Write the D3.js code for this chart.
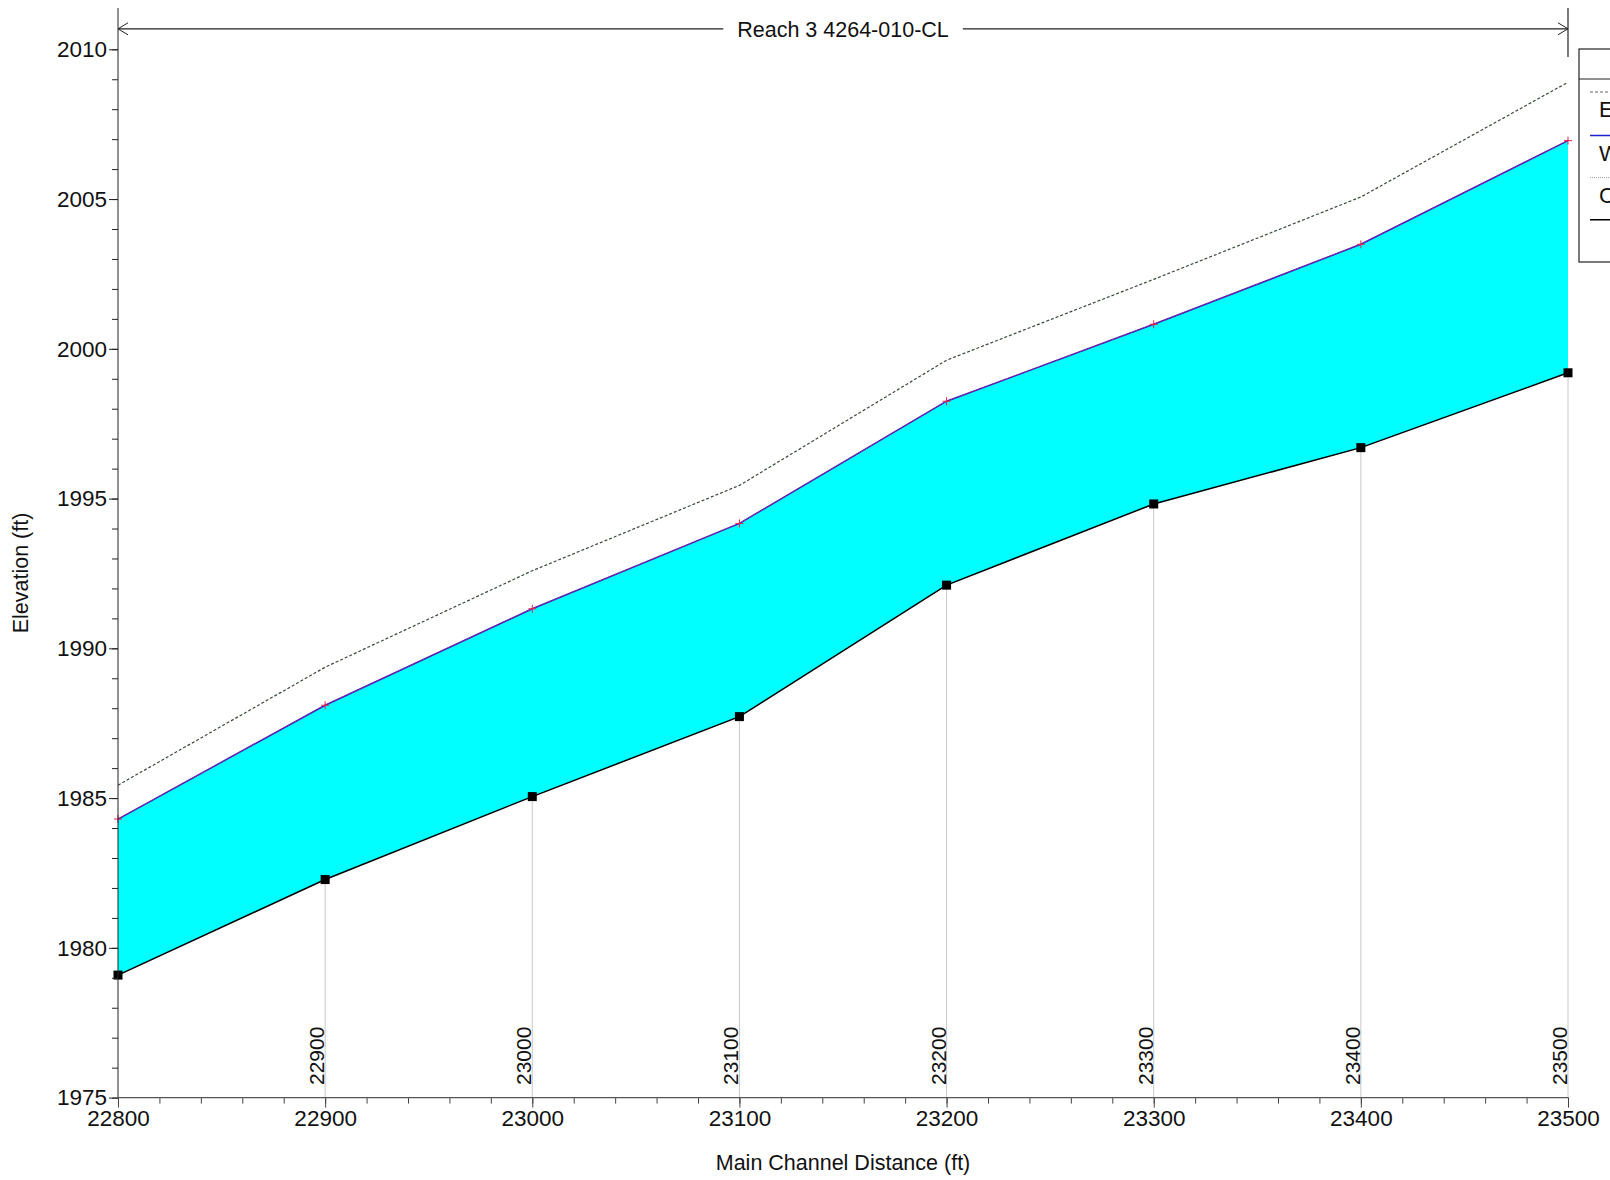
<!DOCTYPE html>
<html>
<head>
<meta charset="utf-8">
<script src="https://cdn.jsdelivr.net/npm/d3@7/dist/d3.min.js"></script>
<style>
body { margin: 0; background: #fff; }
svg { display: block; font-family: "Liberation Sans", Arial, sans-serif; }
</style>
</head>
<body>
<svg id="chart" width="1610" height="1180"></svg>
<script>
// ---- data ----
const stations = [22800, 22900, 23000, 23100, 23200, 23300, 23400, 23500];
const groundElev = [1979.09, 1982.28, 1985.05, 1987.72, 1992.11, 1994.82, 1996.70, 1999.20];
const wsElev = [1984.30, 1988.10, 1991.32, 1994.17, 1998.25, 2000.82, 2003.49, 2006.95];
const egElev = [1985.43, 1989.37, 1992.59, 1995.44, 1999.62, 2002.32, 2005.07, 2008.90];
const critElev = [1984.30, 1988.10, 1991.32, 1994.17, 1998.25, 2000.82, 2003.49, 2006.95];
const yTicks = [1975, 1980, 1985, 1990, 1995, 2000, 2005, 2010];
const xTicks = [22800, 22900, 23000, 23100, 23200, 23300, 23400, 23500];
const legendLabels = ["EG  PF 1", "WS  PF 1", "Crit  PF 1", "Ground"];
const reachLabel = "Reach 3 4264-010-CL";
const xTitle = "Main Channel Distance (ft)";
const yTitle = "Elevation (ft)";

const svg = d3.select("#chart");
const x = d3.scaleLinear().domain([22800, 23500]).range([118, 1568]);
const y = d3.scaleLinear().domain([1975, 2010]).range([1097.6, 49.3]);

const rows = stations.map((s, i) => ({s, g: groundElev[i], ws: wsElev[i], eg: egElev[i], cr: critElev[i]}));
const inner = rows.filter(d => d.s > 22800);

// station grey lines
svg.append("g").selectAll("line").data(inner).join("line")
  .attr("x1", d => x(d.s)).attr("x2", d => x(d.s))
  .attr("y1", d => y(d.g)).attr("y2", y(1975))
  .attr("stroke", "#c8c8c8").attr("stroke-width", 1);

// fill between WS and ground
const area = d3.area().x(d => x(d.s)).y0(d => y(d.g)).y1(d => y(d.ws));
svg.append("path").datum(rows).attr("d", area).attr("fill", "#00ffff");

// EG dashed
svg.append("path").datum(rows)
  .attr("d", d3.line().x(d => x(d.s)).y(d => y(d.eg)))
  .attr("fill", "none").attr("stroke", "#3a4a3a").attr("stroke-width", 1.2)
  .attr("stroke-dasharray", "3,2");

// WS blue
svg.append("path").datum(rows)
  .attr("d", d3.line().x(d => x(d.s)).y(d => y(d.ws)))
  .attr("fill", "none").attr("stroke", "#2020d0").attr("stroke-width", 1.5);
// Crit red dotted overlapping
svg.append("path").datum(rows)
  .attr("d", d3.line().x(d => x(d.s)).y(d => y(d.cr)))
  .attr("fill", "none").attr("stroke", "#e0206a").attr("stroke-width", 1)
  .attr("stroke-dasharray", "1,1");
// crit + markers
const plus = svg.append("g").selectAll("g").data(rows).join("g")
  .attr("transform", d => `translate(${x(d.s)},${y(d.cr)})`);
plus.append("line").attr("x1", -4).attr("x2", 4).attr("stroke", "#e8204a").attr("stroke-width", 1);
plus.append("line").attr("y1", -4).attr("y2", 4).attr("stroke", "#e8204a").attr("stroke-width", 1);

// ground line
svg.append("path").datum(rows)
  .attr("d", d3.line().x(d => x(d.s)).y(d => y(d.g)))
  .attr("fill", "none").attr("stroke", "#000").attr("stroke-width", 1.5);
svg.append("g").selectAll("rect").data(rows).join("rect")
  .attr("x", d => x(d.s) - 4.5).attr("y", d => y(d.g) - 4.5)
  .attr("width", 9).attr("height", 9).attr("fill", "#000");

// rotated station labels
svg.append("g").selectAll("text").data(inner).join("text")
  .attr("transform", d => `translate(${x(d.s) - 1},${1085}) rotate(-90)`)
  .attr("text-anchor", "start").attr("font-size", 21).attr("fill", "#111")
  .text(d => d.s);

// Y axis
const yMinor = d3.range(1975, 2011, 1);
svg.append("g").attr("transform", "translate(118,0)")
  .call(d3.axisLeft(y).tickValues(yMinor).tickSize(6).tickFormat(""))
  .call(g => g.select(".domain").remove())
  .selectAll("line").attr("stroke", "#222");
const yAx = svg.append("g").attr("transform", "translate(118,0)")
  .call(d3.axisLeft(y).tickValues(yTicks).tickSize(9).tickPadding(2).tickFormat(d3.format("d")));
yAx.select(".domain").remove();
yAx.selectAll("line").attr("stroke", "#222");
yAx.selectAll("text").attr("font-size", 22.5).attr("fill", "#111").attr("font-family", "Liberation Sans, Arial, sans-serif");
svg.append("line").attr("x1", 118).attr("x2", 118).attr("y1", 8).attr("y2", y(1975))
  .attr("stroke", "#222").attr("stroke-width", 1);

// X axis
const xMinor = d3.range(22800, 23501, 20);
svg.append("g").attr("transform", `translate(0,${y(1975)})`)
  .call(d3.axisBottom(x).tickValues(xMinor).tickSize(6).tickFormat(""))
  .call(g => g.select(".domain").remove())
  .selectAll("line").attr("stroke", "#444");
const xAx = svg.append("g").attr("transform", `translate(0,${y(1975)})`)
  .call(d3.axisBottom(x).tickValues(xTicks).tickSize(10).tickPadding(2).tickFormat(d3.format("d")));
xAx.select(".domain").remove();
xAx.selectAll("line").attr("stroke", "#444");
xAx.selectAll("text").attr("font-size", 22.5).attr("fill", "#111").attr("font-family", "Liberation Sans, Arial, sans-serif");
svg.append("line").attr("x1", 118).attr("x2", 1568).attr("y1", y(1975)).attr("y2", y(1975))
  .attr("stroke", "#555").attr("stroke-width", 1.3);

// axis titles
svg.append("text").attr("x", x(23150)).attr("y", 1170).attr("text-anchor", "middle")
  .attr("font-size", 21.5).attr("fill", "#111").text(xTitle);
svg.append("text").attr("transform", "translate(28,573) rotate(-90)").attr("text-anchor", "middle")
  .attr("font-size", 21.5).attr("fill", "#111").text(yTitle);

// reach arrow
const ay = 28.8;
svg.append("line").attr("x1", x(22800)).attr("x2", x(23500)).attr("y1", ay).attr("y2", ay)
  .attr("stroke", "#222").attr("stroke-width", 1.2);
svg.append("path").attr("d", `M${x(22800)+10},${ay-6} L${x(22800)},${ay} L${x(22800)+10},${ay+6}`)
  .attr("fill", "none").attr("stroke", "#222").attr("stroke-width", 1);
svg.append("path").attr("d", `M${x(23500)-10},${ay-6} L${x(23500)},${ay} L${x(23500)-10},${ay+6}`)
  .attr("fill", "none").attr("stroke", "#222").attr("stroke-width", 1);
svg.append("line").attr("x1", x(23500)).attr("x2", x(23500)).attr("y1", 8).attr("y2", 57)
  .attr("stroke", "#222").attr("stroke-width", 1.2);
const rlBg = svg.append("rect").attr("fill", "#fff");
const rl = svg.append("text").attr("x", 843).attr("y", 36.5).attr("text-anchor", "middle")
  .attr("font-size", 21.5).attr("fill", "#111").text(reachLabel);
const bb = rl.node().getBBox();
rlBg.attr("x", bb.x - 14).attr("y", bb.y).attr("width", bb.width + 28).attr("height", bb.height);

// legend (cut off at right edge, as in the reference)
const lg = svg.append("g");
lg.append("rect").attr("x", 1579).attr("y", 49).attr("width", 200).attr("height", 213)
  .attr("fill", "#fff").attr("stroke", "#222").attr("stroke-width", 1.2);
lg.append("line").attr("x1", 1579).attr("x2", 1779).attr("y1", 79).attr("y2", 79).attr("stroke", "#222");
lg.append("text").attr("x", 1640).attr("y", 72).attr("font-size", 21).text("Legend");
const legStyles = [
  {y: 92, stroke: "#666", dash: "3,2", w: 1},
  {y: 135.5, stroke: "#2020d0", dash: null, w: 1.5},
  {y: 177.6, stroke: "#999", dash: "1,1", w: 1},
  {y: 219.7, stroke: "#000", dash: null, w: 1.5}
];
legendLabels.forEach((t, i) => {
  const st = legStyles[i];
  lg.append("line").attr("x1", 1590).attr("x2", 1680).attr("y1", st.y).attr("y2", st.y)
    .attr("stroke", st.stroke).attr("stroke-width", st.w).attr("stroke-dasharray", st.dash);
  if (i < 3) lg.append("text").attr("x", 1599).attr("y", st.y + 25).attr("font-size", 22).attr("fill", "#111").text(t);
});
</script>
</body>
</html>
